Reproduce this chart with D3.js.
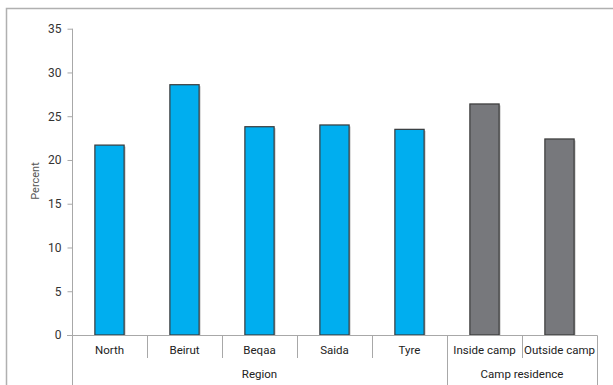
<!DOCTYPE html>
<html><head><meta charset="utf-8">
<script src="https://cdn.jsdelivr.net/npm/d3@7"></script>
<style>body{margin:0;background:#fff;} svg{display:block;}</style>
</head><body>
<script>
const categories = ["North","Beirut","Beqaa","Saida","Tyre","Inside camp","Outside camp"];
const values = [21.7, 28.6, 23.8, 24.0, 23.5, 26.4, 22.4];
const groups = ["Region","Region","Region","Region","Region","Camp residence","Camp residence"];
const groupNames = ["Region","Camp residence"];
const yTicks = [0,5,10,15,20,25,30,35];
const colors = {"Region":"#00AEEF","Camp residence":"#77787C"};

const W = 613, H = 385;
const svg = d3.select("body").append("svg").attr("width",W).attr("height",H);
const font = "Roboto, 'DejaVu Sans', sans-serif";

// frame
svg.append("path").attr("d","M6.5,385 L6.5,8.5 L613,8.5").attr("fill","none").attr("stroke","#b0b0b0").attr("stroke-width",1.5);

const x = d3.scaleBand().domain(categories).range([72,597]).paddingInner(0).paddingOuter(0);
const y = d3.scaleLinear().domain([0,35]).range([335,28.7]);
const bw = x.bandwidth()*0.39;

// y axis
const yAxis = svg.append("g").attr("transform","translate(72.5,0)")
  .call(d3.axisLeft(y).tickValues(yTicks).tickSize(5).tickPadding(6).tickFormat(d3.format("d")));
yAxis.select(".domain").remove();
yAxis.selectAll(".tick line").attr("stroke","#a8a8a8");
yAxis.selectAll(".tick text").attr("fill","#333").style("font-family",font).style("font-size","12px");
svg.append("line").attr("x1",72.5).attr("x2",72.5).attr("y1",y(35)).attr("y2",385).attr("stroke","#a8a8a8");

// bars (shadow + bar)
const bars = svg.append("g");
bars.selectAll("rect.sh").data(categories).join("rect").attr("class","sh")
  .attr("x",d=>x(d)+x.bandwidth()/2-bw/2+1.5).attr("y",(d,i)=>y(values[i])+1.5)
  .attr("width",bw).attr("height",(d,i)=>y(0)-y(values[i])-1.5).attr("fill","#c8c8c8");
bars.selectAll("rect.b").data(categories).join("rect").attr("class","b")
  .attr("x",d=>x(d)+x.bandwidth()/2-bw/2).attr("y",(d,i)=>y(values[i]))
  .attr("width",bw).attr("height",(d,i)=>y(0)-y(values[i]))
  .attr("fill",(d,i)=>colors[groups[i]]).attr("stroke","#3a3a3a").attr("stroke-width",1.2);

// x axis line
svg.append("line").attr("x1",67).attr("x2",597.5).attr("y1",335.5).attr("y2",335.5).attr("stroke","#a8a8a8");
// category separators
const bounds = categories.map(c=>x(c)).concat([x.range()[1]]);
bounds.forEach((b,i)=>{
  const isGroupEdge = i===0 || i===bounds.length-1 || groups[i]!==groups[i-1];
  svg.append("line").attr("x1",Math.round(b)+0.5).attr("x2",Math.round(b)+0.5)
    .attr("y1",335.5).attr("y2",isGroupEdge?385:358).attr("stroke","#a8a8a8");
});
// category labels
svg.append("g").selectAll("text").data(categories).join("text")
  .attr("x",d=>x(d)+x.bandwidth()/2).attr("y",354).attr("text-anchor","middle")
  .attr("fill","#222").style("font-family",font).style("font-size","11.5px").text(d=>d);
// group labels
groupNames.forEach(g=>{
  const cs = categories.filter((c,i)=>groups[i]===g);
  const x0 = x(cs[0]), x1 = x(cs[cs.length-1])+x.bandwidth();
  svg.append("text").attr("x",(x0+x1)/2).attr("y",378).attr("text-anchor","middle")
    .attr("fill","#222").style("font-family",font).style("font-size","11.5px").text(g);
});
// y title
svg.append("text").attr("transform","translate(39,181) rotate(-90)").attr("text-anchor","middle")
  .attr("fill","#555").style("font-family",font).style("font-size","11px").text("Percent");
</script>
</body></html>
